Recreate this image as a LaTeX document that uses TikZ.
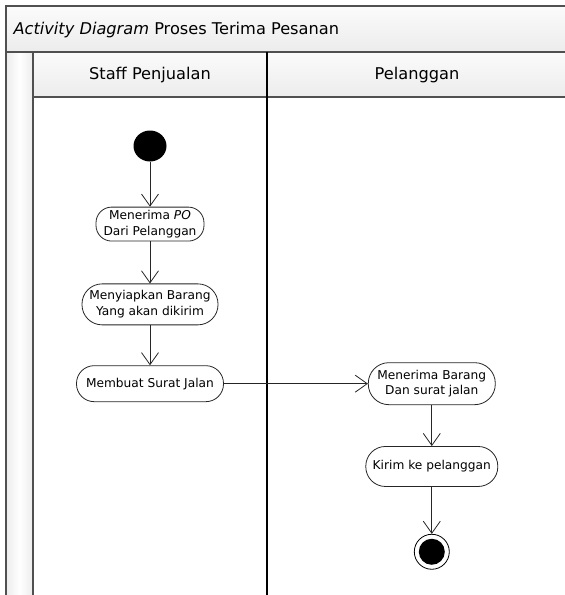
\documentclass[tikz,border=0pt]{standalone}
\usepackage{fontspec}
\setmainfont{DejaVu Sans}
\usetikzlibrary{arrows.meta,positioning,shapes.geometric}
\definecolor{Frame}{HTML}{505050}
\definecolor{BarTop}{HTML}{FBFBFB}
\definecolor{BarBot}{HTML}{ECECEC}
\tikzset{
  bar/.style={draw=Frame,line width=1.3pt,top color=BarTop,bottom color=BarBot},
  act/.style={rectangle,rounded corners=0.49*#1,draw=black!85,fill=white,line width=.8pt,
    minimum height=#1,inner xsep=4pt,align=center,
    font=\fontsize{12.2}{15.5}\selectfont},
  act/.default=32pt,
  startnode/.style={ellipse,fill=black,minimum width=33pt,minimum height=31pt,inner sep=0pt},
  endnode/.style={circle,draw=black,fill=white,line width=.8pt,minimum size=35pt,inner sep=0pt,
    path picture={\fill[black] (path picture bounding box.center) circle (13pt);}},
  flow/.style={-{Straight Barb[length=12pt,width=17pt]},draw=black!85,line width=.8pt},
  lanehead/.style={font=\fontsize{16.2}{18}\selectfont}
}

\begin{document}
\begin{tikzpicture}[x=1pt,y=-1pt]
    \useasboundingbox (0,0) rectangle (565,595);
    \clip (0,0) rectangle (565,595);
    % frame and swimlanes
    \draw[bar] (6,6) rectangle (580,52);
    \draw[bar] (33,52) rectangle (267,97);
    \draw[bar] (267,52) rectangle (580,97);
    \draw[draw=Frame,line width=1.3pt,left color=BarBot,right color=BarBot,middle color=white] (6,52) rectangle (33,605);
    \draw[black,line width=1.6pt] (267,52) -- (267,605);
    \node[anchor=west,lanehead] (title) at (10,30) {\textit{Activity Diagram} Proses Terima Pesanan};
    \node[lanehead] (staff) at (150,75) {Staff Penjualan};
    \node[lanehead] (pelanggan) at (417,75) {Pelanggan};

    % staff penjualan
    \node[startnode] (start) at (150,146) {};
    \node[act=32pt,below=45pt of start,minimum width=108pt] (po) {Menerima \textit{PO}\\Dari Pelanggan};
    \node[act=41pt,below=42pt of po,minimum width=136pt] (siap) {Menyiapkan Barang\\Yang akan dikirim};
    \node[act=36pt,below=40pt of siap,minimum width=147pt] (surat) {Membuat Surat Jalan};

    % pelanggan
    \node[act=42pt,right=144pt of surat,minimum width=127pt] (terima) {Menerima Barang\\Dan surat jalan};
    \node[act=40pt,below=41pt of terima,minimum width=132pt] (kirim) {Kirim ke pelanggan};
    \node[endnode,below=47pt of kirim] (end) {};

    \draw[flow] (start)--(po); \draw[flow] (po)--(siap); \draw[flow] (siap)--(surat);
    \draw[flow] (surat)--(terima);
    \draw[flow] (terima)--(kirim); \draw[flow] (kirim)--(end);
  \end{tikzpicture}
\end{document}
